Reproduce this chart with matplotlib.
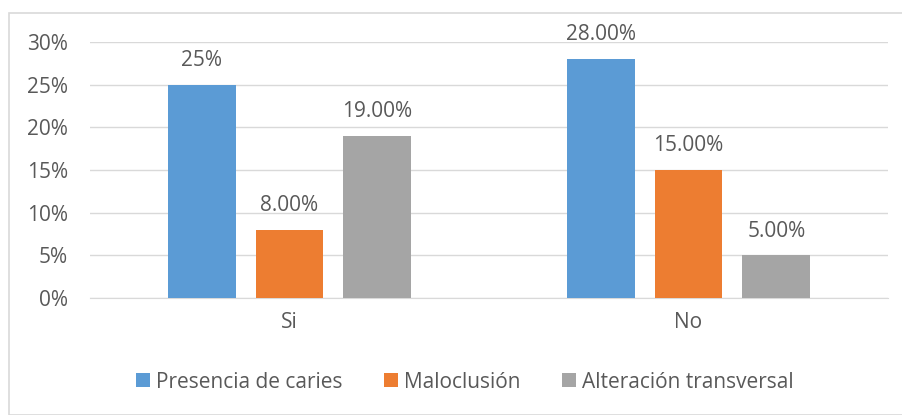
import numpy as np
import matplotlib.pyplot as plt
from matplotlib.patches import Rectangle

categories = ["Si", "No"]
series = ["Presencia de caries", "Maloclusión", "Alteración transversal"]
caries = [25, 28]
maloclusion = [8, 15]
transversal = [19, 5]
labels = [["25%", "28.00%"], ["8.00%", "15.00%"], ["19.00%", "5.00%"]]
colors = ["#5B9BD5", "#ED7D31", "#A5A5A5"]
yticks = [0, 5, 10, 15, 20, 25, 30]
txt = "#595959"

plt.rcParams["font.family"] = ["Open Sans", "DejaVu Sans"]
W, H = 902, 415
fig = plt.figure(figsize=(W / 100, H / 100), dpi=100)
ax = fig.add_axes([90 / W, 1 - 298 / H, 798 / W, 256 / H])

# chart area outline
fig.patches.append(Rectangle((9 / W, 0), 1.2, 1 - 13 / H, transform=fig.transFigure,
                             fill=False, edgecolor="#D9D9D9", lw=1.2))

x = np.arange(len(categories))
width = 0.17
step = 0.22
for i, (vals, col) in enumerate(zip([caries, maloclusion, transversal], colors)):
    pos = x + (i - 1) * step
    ax.bar(pos, vals, width, color=col, label=series[i], zorder=3)
    for p, v, t in zip(pos, vals, labels[i]):
        ax.text(p, v + 2.2, t, ha="center", va="baseline", fontsize=15, color=txt)

ax.set_xlim(-0.5, 1.5)
ax.set_ylim(0, 30)
ax.set_yticks(yticks)
ax.set_yticklabels([f"{t}%" for t in yticks], fontsize=15, color=txt)
ax.set_xticks(x)
ax.set_xticklabels(categories, fontsize=15, color=txt)
ax.tick_params(length=0, pad=16, axis="y")
ax.tick_params(length=0, pad=10, axis="x")
ax.grid(axis="y", color="#D9D9D9", lw=1, zorder=0)
for s in ["top", "right", "left"]:
    ax.spines[s].set_visible(False)
ax.spines["bottom"].set_color("#D9D9D9")

fig.legend(loc="center", bbox_to_anchor=(465 / W, 1 - 382 / H), ncol=3, frameon=False,
           fontsize=15, handlelength=0.65, handleheight=0.65, columnspacing=2.0,
           handletextpad=0.3, labelcolor=txt)

fig.savefig("out.png", dpi=100)
